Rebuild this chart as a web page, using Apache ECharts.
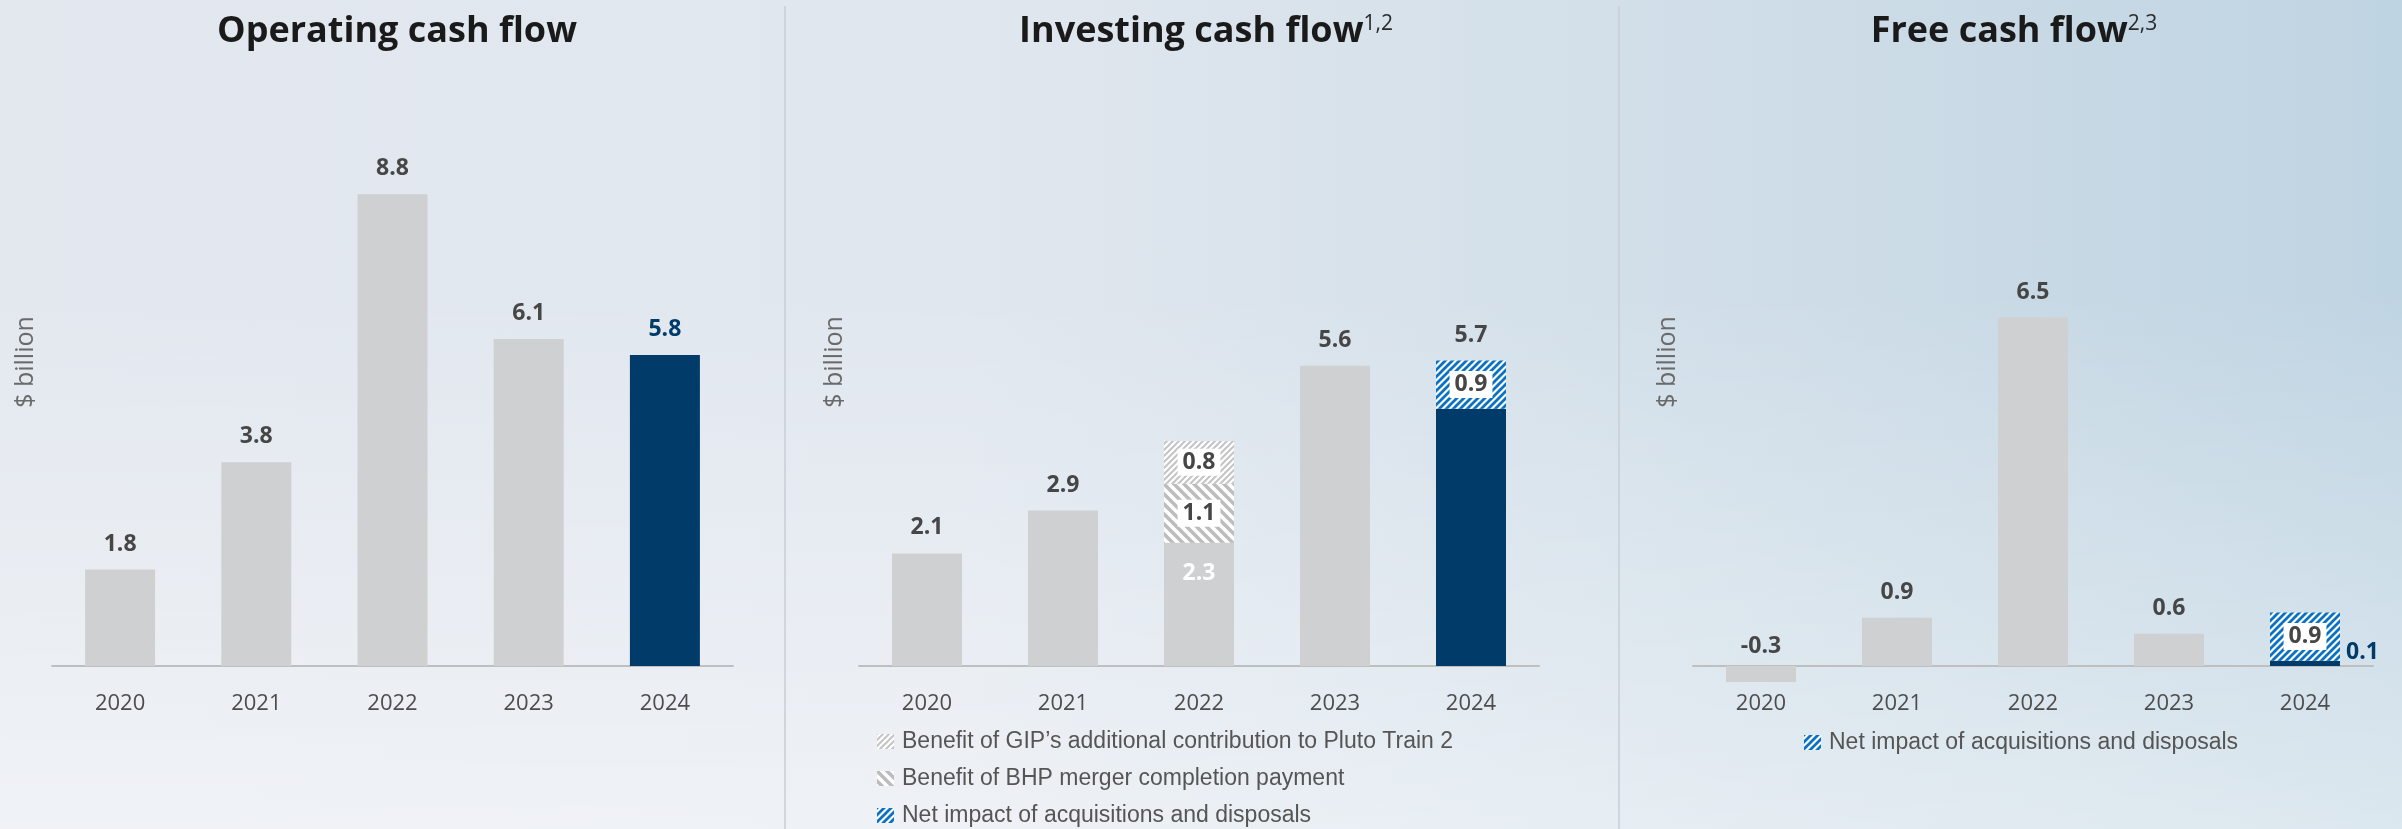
<!DOCTYPE html>
<html>
<head>
<meta charset="utf-8">
<title>Cash flow</title>
<script src="https://cdn.jsdelivr.net/npm/echarts@6/dist/echarts.min.js"></script>
<style>
    html, body {
        margin: 0;
        padding: 0;
    }
    body {
        width: 2402px;
        height: 829px;
        background:
            linear-gradient(to bottom, rgba(255, 255, 255, 0) 35%, rgba(255, 255, 255, 0.45) 100%),
            linear-gradient(to right, #e3e8ef 0%, #e1e7ef 40%, #d2dfe9 68%, #bfd4e2 100%);
    }
    #main {
        width: 2402px;
        height: 829px;
    }
</style>
</head>
<body>
<div id="main"></div>
<script>
// values ($ billion)
var years = ['2020', '2021', '2022', '2023', '2024'];
var opCash = [1.8, 3.8, 8.8, 6.1, 5.8];
var invBase = [2.1, 2.9, 2.3, 5.6, 4.8];
var invBhp = [null, null, 1.1, null, null];
var invGip = [null, null, 0.8, null, null];
var invNet = [null, null, null, null, 0.9];
var invTotals = ['', '', '', '', '5.7'];
var freeBase = [-0.3, 0.9, 6.5, 0.6, 0.1];
var freeNet = [null, null, null, null, 0.9];

var GIP = 'Benefit of GIP\u2019s additional contribution to Pluto Train 2';
var BHP = 'Benefit of BHP merger completion payment';
var NET = 'Net impact of acquisitions and disposals';

var GRAY = '#cfd0d2';
var NAVY = '#003b69';
var BLUE = '#0b72c3';
var LABEL = '#464646';

function stripes(fg, size, width, back) {
    var c = document.createElement('canvas');
    c.width = size;
    c.height = size;
    var g = c.getContext('2d');
    g.fillStyle = '#ffffff';
    g.fillRect(0, 0, size, size);
    g.strokeStyle = fg;
    g.lineWidth = width;
    g.beginPath();
    for (var k = -1; k <= 1; k++) {
        if (back) {
            g.moveTo(k * size - 2, -2);
            g.lineTo(k * size + size + 2, size + 2);
        } else {
            g.moveTo(k * size - 2, size + 2);
            g.lineTo(k * size + size + 2, -2);
        }
    }
    g.stroke();
    return {image: c, repeat: 'repeat'};
}

var gipFill = stripes('#c4c4c4', 6, 2, false);
var bhpFill = stripes('#bcbcbc', 10, 3.5, true);
var netFill = stripes(BLUE, 7, 2.8, false);

var valueLabel = {
    show: true,
    position: 'top',
    distance: 14,
    color: LABEL,
    fontSize: 23,
    fontWeight: 'bold',
    fontFamily: 'Open Sans'
};
var boxLabel = {
    show: true,
    position: 'inside',
    color: LABEL,
    fontSize: 23,
    fontWeight: 'bold',
    fontFamily: 'Open Sans',
    backgroundColor: '#ffffff',
    padding: [3, 5, 1, 5]
};

// zero line at y=666, 53.6px per $1bn; the free cash flow grid reaches down to -1
var grids = [
    {left: 52, width: 681, top: 130, bottom: 163},
    {left: 859, width: 680, top: 130, bottom: 163},
    {left: 1693, width: 680, top: 130, bottom: 109.4}
];
var yMin = [0, 0, -1];
var labelMargin = [27, 27, -26.6];

var xAxes = [];
var yAxes = [];
for (var i = 0; i < 3; i++) {
    xAxes.push({
        type: 'category',
        gridIndex: i,
        data: years,
        axisTick: {show: false},
        axisLine: {lineStyle: {color: '#bfbfbf', width: 2}},
        axisLabel: {color: '#4d4d4d', fontSize: 22, fontFamily: 'Open Sans', margin: labelMargin[i]}
    });
    yAxes.push({type: 'value', gridIndex: i, min: yMin[i], max: 10, show: false});
}

var opData = opCash.map(function (v, i) {
    if (i === 4) {
        return {value: v, itemStyle: {color: NAVY}, label: {color: NAVY}};
    }
    return v;
});

var invBaseData = invBase.map(function (v, i) {
    if (i === 2) {
        return {value: v, label: {position: 'insideTop', distance: 19, color: '#ffffff'}};
    }
    if (i === 4) {
        return {value: v, itemStyle: {color: NAVY}, label: {show: false}};
    }
    return v;
});

var freeBaseData = freeBase.map(function (v, i) {
    if (v < 0) {
        return {value: v, label: {distance: 8}};
    }
    if (i === 4) {
        return {value: v, itemStyle: {color: NAVY}, label: {position: 'right', distance: 6, offset: [0, -11], color: NAVY}};
    }
    return v;
});

function title(text, x) {
    return {
        text: text,
        left: x,
        top: 9,
        textAlign: 'center',
        textStyle: {
            fontFamily: 'Open Sans',
            fontSize: 36,
            fontWeight: 'bold',
            color: '#1a1a1a',
            rich: {
                a: {fontFamily: 'Open Sans', fontSize: 36, fontWeight: 'bold', color: '#1a1a1a'},
                s: {fontFamily: 'Open Sans', fontSize: 21, fontWeight: 'normal', color: '#2a2a2a', verticalAlign: 'top', lineHeight: 28}
            }
        }
    };
}

function unitText(x) {
    return {
        type: 'text',
        x: x,
        y: 362,
        rotation: Math.PI / 2,
        style: {
            text: '$ billion',
            fill: '#6a6a6a',
            fontSize: 25,
            fontFamily: 'Open Sans',
            align: 'center',
            verticalAlign: 'middle'
        }
    };
}

function divider(x) {
    return {
        type: 'line',
        shape: {x1: x, y1: 6, x2: x, y2: 829},
        style: {stroke: '#c9ced6', lineWidth: 1.5}
    };
}

var legendText = {
    fontFamily: 'Liberation Sans',
    fontSize: 23,
    color: '#555555',
    lineHeight: 23,
    padding: [0, 0, 0, 3]
};

var option = {
    backgroundColor: 'transparent',
    animation: false,
    title: [
        title('Operating cash flow', 392),
        title('{a|Investing cash flow}{s|1,2}', 1201),
        title('{a|Free cash flow}{s|2,3}', 2009)
    ],
    grid: grids,
    xAxis: xAxes,
    yAxis: yAxes,
    legend: [{
        data: [GIP, BHP, NET],
        orient: 'vertical',
        left: 877,
        top: 730,
        padding: 0,
        itemWidth: 17,
        itemHeight: 15,
        itemGap: 14,
        icon: 'rect',
        selectedMode: false,
        textStyle: legendText
    }, {
        data: [NET],
        orient: 'vertical',
        left: 1804,
        top: 731,
        padding: 0,
        itemWidth: 17,
        itemHeight: 15,
        icon: 'rect',
        selectedMode: false,
        textStyle: legendText
    }],
    graphic: [unitText(26), unitText(835), unitText(1668), divider(785), divider(1619)],
    series: [{
        name: 'Operating cash flow',
        type: 'bar',
        xAxisIndex: 0,
        yAxisIndex: 0,
        barWidth: 70,
        itemStyle: {color: GRAY},
        label: valueLabel,
        data: opData
    }, {
        name: 'Investing cash flow',
        type: 'bar',
        xAxisIndex: 1,
        yAxisIndex: 1,
        stack: 'inv',
        barWidth: 70,
        itemStyle: {color: GRAY},
        label: valueLabel,
        data: invBaseData
    }, {
        name: BHP,
        type: 'bar',
        xAxisIndex: 1,
        yAxisIndex: 1,
        stack: 'inv',
        barWidth: 70,
        itemStyle: {color: bhpFill},
        label: boxLabel,
        data: invBhp
    }, {
        name: GIP,
        type: 'bar',
        xAxisIndex: 1,
        yAxisIndex: 1,
        stack: 'inv',
        barWidth: 70,
        itemStyle: {color: gipFill},
        label: boxLabel,
        data: invGip
    }, {
        name: NET,
        type: 'bar',
        xAxisIndex: 1,
        yAxisIndex: 1,
        stack: 'inv',
        barWidth: 70,
        itemStyle: {color: netFill},
        label: boxLabel,
        data: invNet
    }, {
        name: 'inv-total',
        type: 'bar',
        xAxisIndex: 1,
        yAxisIndex: 1,
        stack: 'inv',
        barWidth: 70,
        silent: true,
        itemStyle: {color: 'transparent'},
        label: {
            show: true,
            position: 'top',
            distance: 14,
            color: LABEL,
            fontSize: 23,
            fontWeight: 'bold',
            fontFamily: 'Open Sans',
            formatter: function (p) {
                return invTotals[p.dataIndex];
            }
        },
        data: invTotals.map(function (t) {
            return t ? 0 : null;
        })
    }, {
        name: 'Free cash flow',
        type: 'bar',
        xAxisIndex: 2,
        yAxisIndex: 2,
        stack: 'free',
        barWidth: 70,
        itemStyle: {color: GRAY},
        label: valueLabel,
        data: freeBaseData
    }, {
        name: NET,
        type: 'bar',
        xAxisIndex: 2,
        yAxisIndex: 2,
        stack: 'free',
        barWidth: 70,
        itemStyle: {color: netFill},
        label: boxLabel,
        data: freeNet
    }]
};

var myChart = echarts.init(document.getElementById('main'));
myChart.setOption(option);
window.onresize = function () {
    myChart.resize();
};
</script>
</body>
</html>
